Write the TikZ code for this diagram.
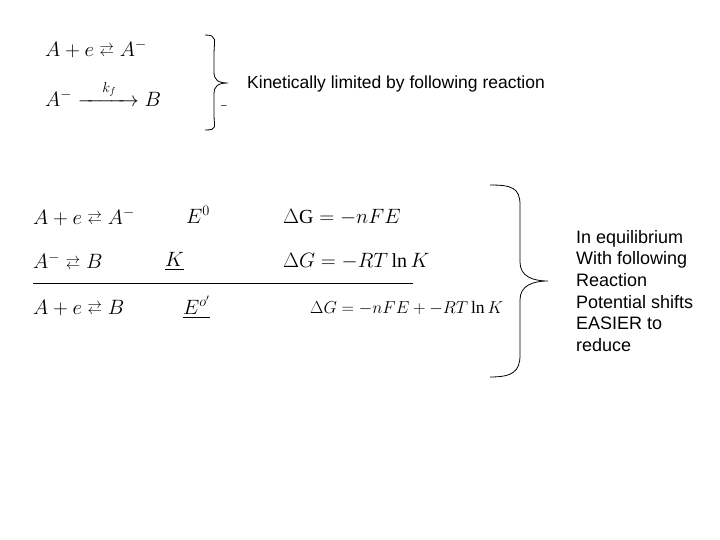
\documentclass[tikz,border=0pt]{standalone}
\usepackage{amsmath}
\usepackage{fontspec}
\setmainfont{Liberation Serif}
\newfontfamily\sansf{Liberation Sans}
\newcommand{\eqarr}{\mathrel{\vcenter{\offinterlineskip\hbox{$\scriptstyle\rightarrow$}\vskip0.5pt\hbox{$\scriptstyle\leftarrow$}}}}
\begin{document}
\begin{tikzpicture}[x=1pt,y=-1pt,
  eq/.style={anchor=west,inner sep=0pt,font=\fontsize{20}{22}\selectfont},
  lbl/.style={anchor=west,inner sep=0pt,font=\sansf\fontsize{17.5}{21.6}\selectfont},
  br/.style={line width=0.8pt}]
\useasboundingbox (0,0) rectangle (720,540);
\node[eq] (t1) at (45,49) {$A+e\eqarr A^-$};
\node[eq] (t2) at (45,93) {$A^-\xrightarrow[]{\;\;\;\;\;k_f\;\;\;\;}B$};
\draw[br] (205,35) .. controls (218,35) and (214,40) .. (214,55) -- (214,72) .. controls (214,80) and (218,83) .. (228,83)
  (228,83) .. controls (218,83) and (214,86) .. (214,94) -- (214,115) .. controls (214,127) and (218,130) .. (205,130);
\node[lbl,font=\sansf\fontsize{10}{12}\selectfont] (m) at (221,107) {\textendash};
\node[lbl] (k) at (247,84) {Kinetically limited by following reaction};
\node[eq] (r1) at (33,217) {$A+e\eqarr A^-$};
\node[eq] (e0) at (186,215) {$E^0$};
\node[eq] (g1) at (283,217) {$\Delta\mathrm{G}=-nFE$};
\node[eq] (r2) at (33,261) {$A^-\eqarr B$};
\node[eq] (kk) at (165,261) {$\underline{K}$};
\node[eq] (g2) at (283,261) {$\Delta G=-RT\ln K$};
\coordinate (l1) at (33,283); \coordinate (l2) at (413,283);
\draw[line width=1pt] (l1) -- (l2);
\node[eq] (r3) at (33,308) {$A+e\eqarr B$};
\node[eq] (e1) at (183,307) {$\underline{E^{o'}}$};
\node[eq,font=\fontsize{17.5}{20}\selectfont] (g3) at (310,308) {$\Delta G=-nFE+-RT\ln K$};
\draw[br] (490,185) .. controls (512,185) and (520,188) .. (520,205) -- (520,262) .. controls (520,276) and (532,281) .. (548,281)
  (548,281) .. controls (532,281) and (520,286) .. (520,300) -- (520,355) .. controls (520,372) and (512,377) .. (490,377);
\node[lbl,align=left,anchor=north west,font=\sansf\fontsize{18}{21.6}\selectfont] (t) at (576,230) {In equilibrium\\With following\\Reaction\\Potential shifts\\EASIER to\\reduce};
\end{tikzpicture}
\end{document}
